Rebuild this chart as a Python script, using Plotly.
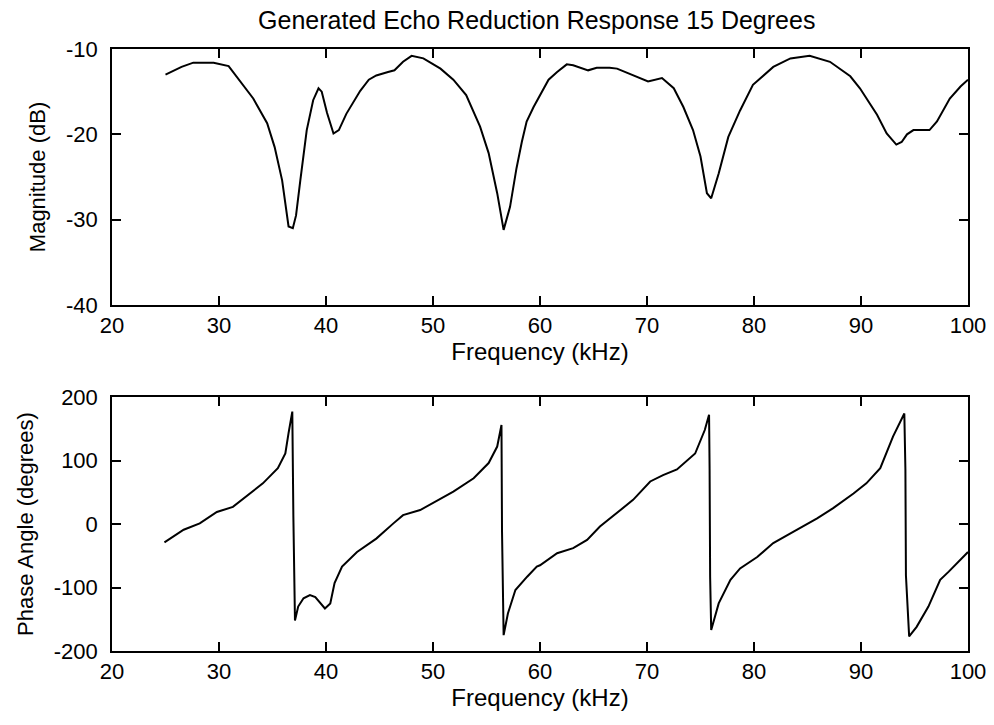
import plotly.graph_objects as go

# Magnitude response (kHz, dB)
mag_freq = [25, 26.5, 27.6, 29.5, 30.9, 32.3, 33.2, 34.5, 35.2, 35.9, 36.5, 36.9, 37.2, 37.6,
            38.2, 38.8, 39.3, 39.6, 40.1, 40.7, 41.2, 41.9, 42.5, 43.2, 44.0, 44.7, 45.8, 46.4,
            47.2, 48.0, 49.1, 50.7, 51.9, 53.1, 54.4, 55.2, 56.0, 56.6, 57.2, 57.8, 58.3, 58.75,
            59.4, 60.0, 60.8, 61.6, 62.5, 63.1, 64.5, 65.3, 66.5, 67.2, 69.0, 70.1, 71.4, 72.5,
            73.4, 74.3, 75.0, 75.6, 76.0, 76.7, 77.6, 78.7, 79.9, 81.8, 83.4, 85.2, 87.1, 89.0,
            89.9, 91.5, 92.4, 93.3, 93.8, 94.3, 94.9, 96.4, 97.1, 98.3, 99.3, 100]
mag_db = [-13.0, -12.1, -11.6, -11.6, -12.0, -14.4, -15.8, -18.7, -21.5, -25.4, -30.8, -31.0, -29.5, -25.4,
          -19.5, -16.0, -14.6, -15.0, -17.5, -19.9, -19.5, -17.6, -16.3, -14.9, -13.6, -13.1, -12.7, -12.5,
          -11.5, -10.8, -11.1, -12.3, -13.6, -15.4, -19.1, -22.2, -26.9, -31.2, -28.5, -24.0, -20.9, -18.5,
          -16.8, -15.4, -13.6, -12.7, -11.8, -11.9, -12.5, -12.2, -12.2, -12.3, -13.2, -13.8, -13.4, -14.6,
          -16.8, -19.5, -22.6, -26.9, -27.5, -24.6, -20.3, -17.2, -14.2, -12.1, -11.1, -10.8, -11.5, -13.2,
          -14.6, -17.7, -19.9, -21.2, -20.9, -20.0, -19.5, -19.5, -18.5, -15.8, -14.4, -13.6]

# Phase response (kHz, degrees)
ph_freq = [24.9, 26.7, 28.2, 29.8, 31.3, 32.3, 34.1, 35.5, 36.2, 36.5, 36.85, 36.95, 37.1, 37.4,
           37.9, 38.5, 39.0, 39.9, 40.4, 40.8, 41.5, 42.9, 44.7, 46.3, 47.2, 48.8, 50.0, 51.9,
           53.8, 55.2, 56.0, 56.4, 56.45, 56.6, 57.0, 57.7, 58.8, 59.7, 60.0, 60.8, 61.6, 63.1,
           64.4, 65.6, 67.2, 68.7, 70.3, 71.5, 72.8, 74.5, 75.4, 75.8, 75.85, 75.9, 76.0, 76.7,
           77.8, 78.7, 80.3, 81.8, 83.7, 85.9, 87.4, 89.3, 90.5, 91.8, 93.0, 94.05, 94.15, 94.2,
           94.5, 95.2, 96.3, 97.4, 98.2, 100]
ph_deg = [-29, -9, 1, 19, 27, 40, 64, 88, 111, 143, 177, 12, -152, -130,
          -117, -112, -115, -133, -125, -93, -67, -44, -23, 1, 14, 22, 33, 51,
          72, 96, 122, 156, -12, -175, -141, -104, -83, -67, -65, -55, -46, -38,
          -25, -4, 17, 38, 67, 77, 86, 111, 148, 172, 88, -83, -167, -125,
          -88, -70, -52, -30, -12, 9, 25, 48, 64, 88, 138, 174, 85, -81,
          -177, -162, -130, -88, -75, -44]

x_ticks = [20, 30, 40, 50, 60, 70, 80, 90, 100]
mag_ticks = [-40, -30, -20, -10]
ph_ticks = [-200, -100, 0, 100, 200]

FONT = "Liberation Sans, Arial, sans-serif"


def labels(vals):
    return [str(v) for v in vals]  # plain hyphen minus, as in the original


axis_common = dict(showline=True, linecolor="black", linewidth=1.5, mirror="allticks",
                   ticks="inside", ticklen=9, tickwidth=1.5, tickcolor="black",
                   showgrid=False, zeroline=False, automargin=False,
                   tickfont=dict(family=FONT, size=22, color="black"))

fig = go.Figure()
fig.add_trace(go.Scatter(x=mag_freq, y=mag_db, mode="lines",
                         line=dict(color="black", width=2), xaxis="x", yaxis="y",
                         showlegend=False))
fig.add_trace(go.Scatter(x=ph_freq, y=ph_deg, mode="lines",
                         line=dict(color="black", width=2), xaxis="x2", yaxis="y2",
                         showlegend=False))

fig.update_layout(
    width=994, height=725,
    paper_bgcolor="white", plot_bgcolor="white",
    margin=dict(l=112, r=26, t=49, b=74, autoexpand=False),
    font=dict(family=FONT, color="black"),
    title=dict(text="Generated Echo Reduction Response 15 Degrees",
               x=0.54, xref="container", xanchor="center",
               y=1 - 20 / 725, yref="container", yanchor="middle", automargin=False,
               font=dict(family=FONT, size=25, color="black")),
    xaxis=dict(domain=[0, 1], anchor="y", range=[20, 100],
               tickvals=x_ticks, ticktext=labels(x_ticks),
               title=dict(text="Frequency (kHz)", standoff=4,
                          font=dict(family=FONT, size=24, color="black")),
               **axis_common),
    yaxis=dict(domain=[0.5748, 1.0], anchor="x", range=[-40, -10],
               tickvals=mag_ticks, ticktext=labels(mag_ticks),
               ticklabelstandoff=8,
               title=dict(text="Magnitude (dB)", standoff=14,
                          font=dict(family=FONT, size=22, color="black")),
               **axis_common),
    xaxis2=dict(domain=[0, 1], anchor="y2", range=[20, 100],
                tickvals=x_ticks, ticktext=labels(x_ticks),
                title=dict(text="Frequency (kHz)", standoff=4,
                           font=dict(family=FONT, size=24, color="black")),
                **axis_common),
    yaxis2=dict(domain=[0, 0.4219], anchor="x2", range=[-200, 200],
                tickvals=ph_ticks, ticktext=labels(ph_ticks),
                ticklabelstandoff=8,
                title=dict(text="Phase Angle (degrees)", standoff=14,
                           font=dict(family=FONT, size=22, color="black")),
                **axis_common),
)

fig.write_html("out.html",
               config={"displayModeBar": False},
               post_script="document.body.style.margin='0';document.body.style.padding='0';")
